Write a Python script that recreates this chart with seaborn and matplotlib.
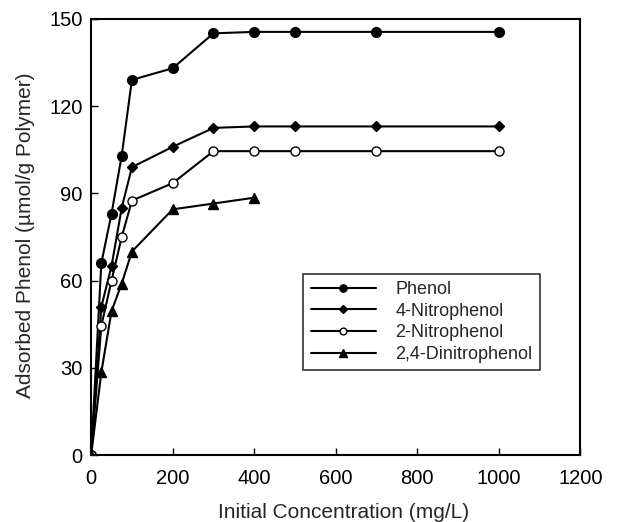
import pandas as pd
import matplotlib
matplotlib.use('Agg')
import matplotlib.pyplot as plt
import seaborn as sns

# Initial concentration (mg/L)
conc = [0, 25, 50, 75, 100, 200, 300, 400, 500, 700, 1000]
conc_dnp = [0, 25, 50, 75, 100, 200, 300, 400]

# Adsorbed amount (umol/g polymer)
phenol = [0, 66, 83, 103, 129, 133, 145, 145.5, 145.5, 145.5, 145.5]
nitro4 = [0, 51, 65, 85, 99, 106, 112.5, 113, 113, 113, 113]
nitro2 = [0, 44.5, 60, 75, 87.5, 93.5, 104.5, 104.5, 104.5, 104.5, 104.5]
dinitro = [0, 28.5, 49.5, 59, 70, 84.5, 86.5, 88.5]

names = ['Phenol', '4-Nitrophenol', '2-Nitrophenol', '2,4-Dinitrophenol']

sns.set_style('ticks')
plt.rcParams['font.family'] = ['Liberation Sans', 'DejaVu Sans']

fig = plt.figure(figsize=(6.2, 5.22), dpi=100)
ax = fig.add_axes([0.147, 0.128, 0.789, 0.836])

series = [
    (conc, phenol, 'o', 'black', 7),
    (conc, nitro4, 'D', 'black', 5),
    (conc, nitro2, 'o', 'white', 6.5),
    (conc_dnp, dinitro, '^', 'black', 7),
]
for (x, y, m, fc, ms), name in zip(series, names):
    df = pd.DataFrame({'conc': x, 'ads': y})
    sns.lineplot(data=df, x='conc', y='ads', ax=ax, color='black', lw=1.5,
                 marker=m, markersize=ms, markerfacecolor=fc,
                 markeredgecolor='black', markeredgewidth=1.0, label=name)

ax.set_xlim(0, 1200)
ax.set_ylim(0, 150)
ax.set_xticks(range(0, 1201, 200))
ax.set_yticks(range(0, 151, 30))
ax.tick_params(direction='in', length=5, width=1, labelsize=14.5, colors='black')
ax.tick_params(axis='x', pad=10)
ax.tick_params(axis='y', pad=6)
for s in ax.spines.values():
    s.set_visible(True)
    s.set_linewidth(1.5)
    s.set_color('black')

ax.set_xlabel('Initial Concentration (mg/L)', fontsize=15)
ax.set_ylabel('Adsorbed Phenol (µmol/g Polymer)', fontsize=15)
ax.xaxis.set_label_coords(0.515, -0.11)
ax.yaxis.set_label_coords(-0.115, 0.505)

leg = ax.legend(loc='upper left', bbox_to_anchor=(0.434, 0.415), fontsize=13,
                frameon=True, fancybox=False, edgecolor='black', markerscale=0.75,
                handlelength=3.6, borderpad=0.4, labelspacing=0.25,
                handletextpad=1.1, borderaxespad=0)
leg.get_frame().set_linewidth(1.2)

fig.savefig('out.png', dpi=100)
